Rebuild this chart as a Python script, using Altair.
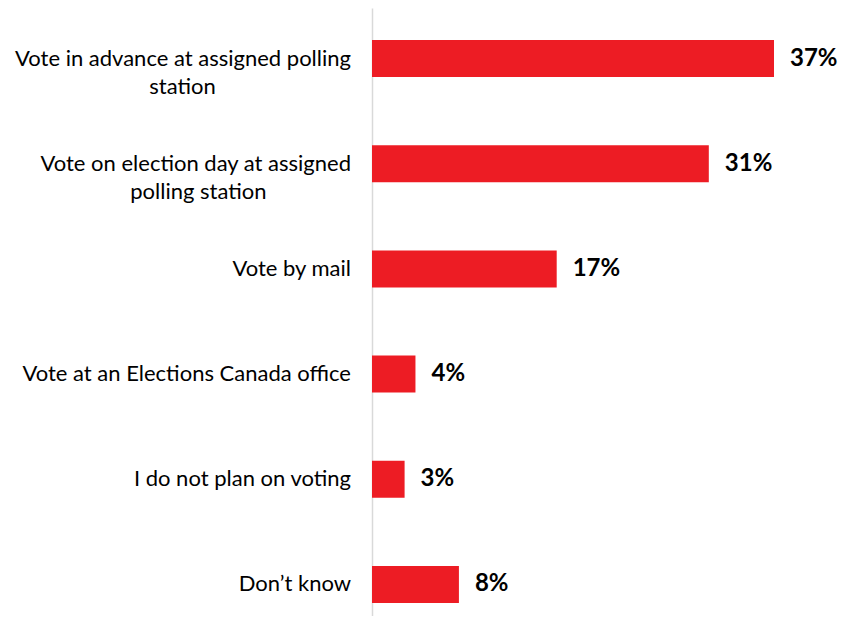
import altair as alt
import pandas as pd

NB = "\u00a0"
ZW = "\u200b"
categories = [
    "Vote in advance at assigned polling\nstation" + NB * 24 + ZW,
    "Vote on election day at assigned\npolling station" + NB * 15 + ZW,
    "Vote by mail",
    "Vote at an Elections Canada office",
    "I do not plan on voting",
    "Don\u2019t know",
]
values = [37, 31, 17, 4, 3, 8]
value_labels = ["37%", "31%", "17%", "4%", "3%", "8%"]

df = pd.DataFrame({"category": categories, "value": values, "label": value_labels})

FONT = "Lato"

y_enc = alt.Y(
    "category:N",
    sort=categories,
    scale=alt.Scale(paddingInner=0.648, paddingOuter=0.214, align=0.711),
    axis=alt.Axis(labels=False, ticks=False, title=None, domainColor="#d9d9d9", domainWidth=1.5, grid=False),
)
x_enc = alt.X("value:Q", scale=alt.Scale(domain=[0, 37], nice=False, zero=True), axis=None)

base = alt.Chart(df)

bars = base.mark_bar(color="#ED1C24").encode(x=x_enc, y=y_enc)

pct = base.mark_text(
    align="left", baseline="middle", dx=16, font=FONT, fontSize=24, fontWeight="bold", color="#000000"
).encode(x=x_enc, y=y_enc, text="label:N")

cat_text = base.mark_text(
    align="right", baseline="middle", font=FONT, fontSize=22, color="#000000", lineBreak="\n", lineHeight=28
).encode(x=alt.value(-21), y=y_enc, text="category:N")

chart = (
    alt.layer(bars, pct, cat_text)
    .properties(
        width=402,
        height=608,
        autosize=alt.AutoSizeParams(type="none"),
        padding={"left": 364, "top": 0, "right": 64, "bottom": 0},
    )
    .configure_view(stroke=None)
)

chart.save("out.html", embed_options={"renderer": "svg", "actions": False})
